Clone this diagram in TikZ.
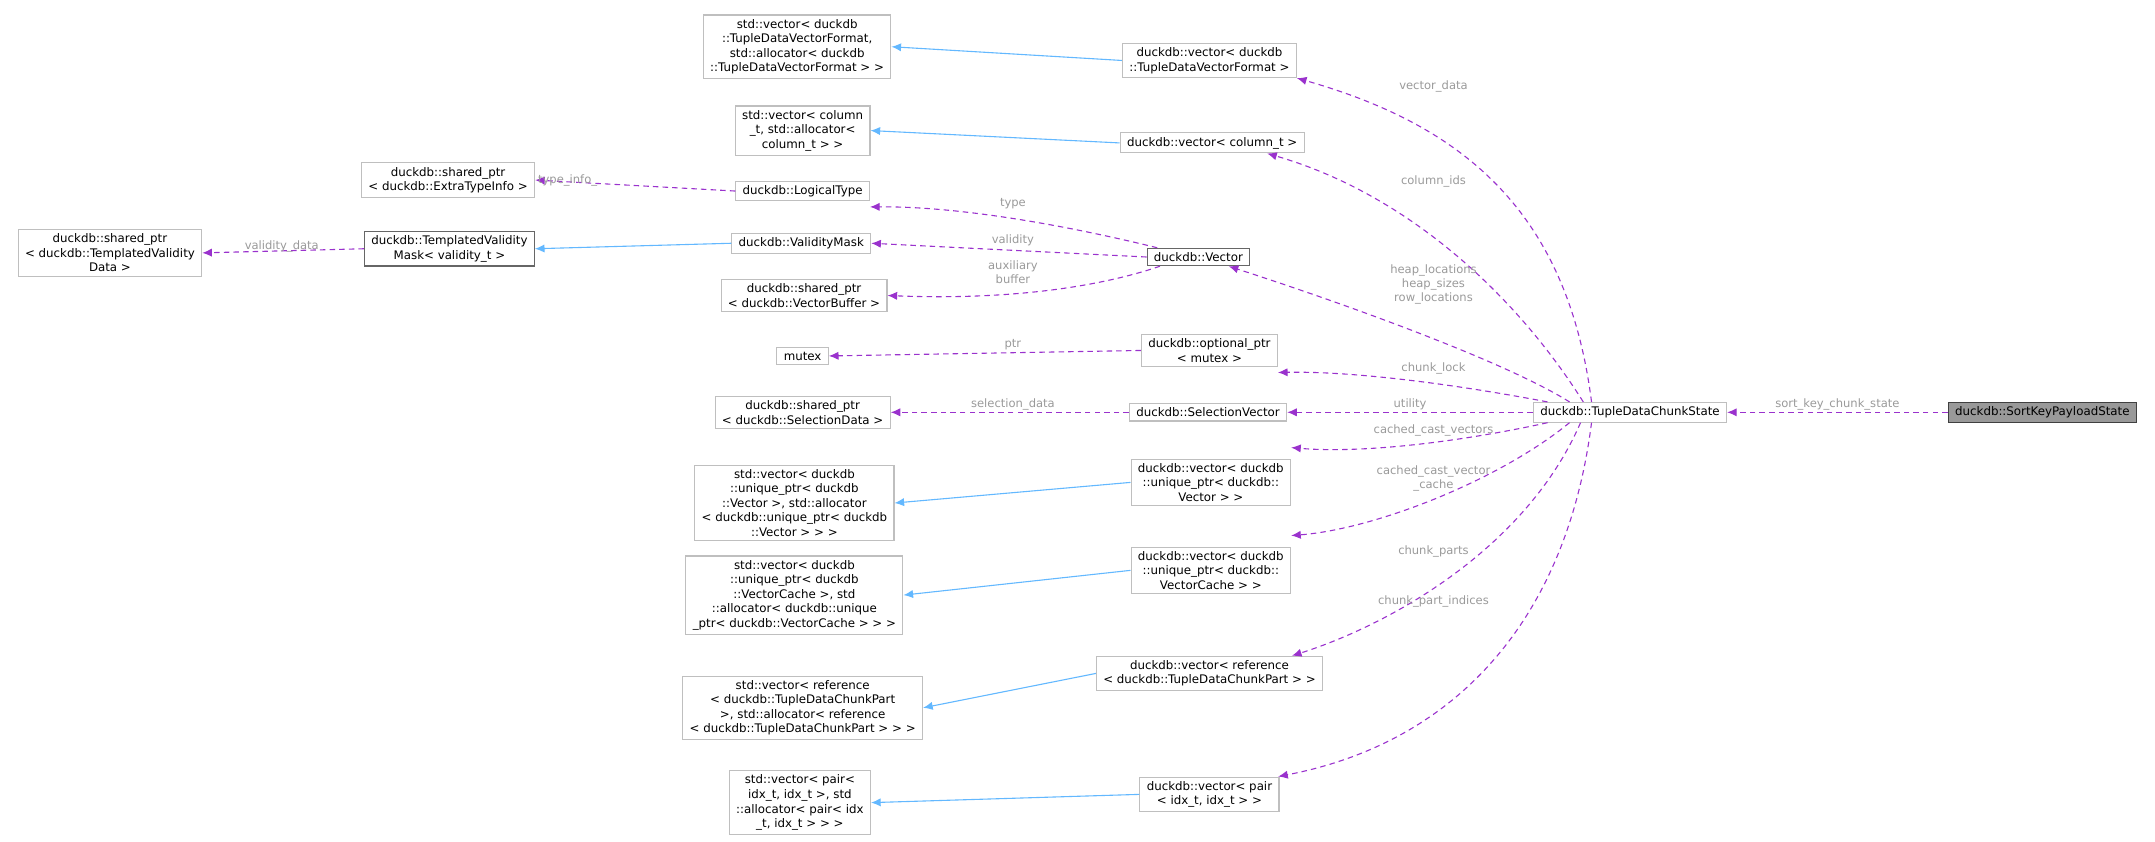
\documentclass[tikz,border=0pt]{standalone}
\usepackage{fontspec}
\setmainfont{DejaVu Sans}
\usetikzlibrary{arrows.meta}
\definecolor{edgeP}{HTML}{9A32CD}
\definecolor{edgeB}{HTML}{63B8FF}
\definecolor{lbl}{HTML}{9A9A9A}
\definecolor{bord}{HTML}{BFBFBF}
\begin{document}
\begin{tikzpicture}[x=1pt,y=-1pt,
  box/.style={draw=bord,line width=0.8pt,fill=white,align=center,font=\fontsize{8.6}{10.6}\selectfont,inner xsep=5pt,inner ysep=3pt},
  dark/.style={box,draw=black!60},
  dep/.style={draw=edgeP,dashed,dash pattern=on 4pt off 3pt,line width=0.8pt,-{Latex[length=7pt,width=6pt]}},
  inh/.style={draw=edgeB,line width=0.8pt,-{Latex[length=7pt,width=6pt]}},
  lab/.style={text=lbl,font=\fontsize{8.4}{10}\selectfont,align=center,inner sep=1pt}]
\useasboundingbox (0,0) rectangle (1568,612);
% nodes
\node[box,draw=black!75,fill=black!40] (sk) at (1486,300) {duckdb::SortKeyPayloadState};
\node[box] (tdcs) at (1186,300) {duckdb::TupleDataChunkState};
\node[box] (vTDVF) at (880,44) {duckdb::vector< duckdb\\::TupleDataVectorFormat >};
\node[box] (sTDVF) at (580,34) {std::vector< duckdb\\::TupleDataVectorFormat,\\ std::allocator< duckdb\\::TupleDataVectorFormat > >};
\node[box] (vCol) at (882,104) {duckdb::vector< column\_t >};
\node[box] (sCol) at (584,95) {std::vector< column\\\_t, std::allocator<\\ column\_t > >};
\node[box] (sExt) at (326,131) {duckdb::shared\_ptr\\< duckdb::ExtraTypeInfo >};
\node[box] (LT) at (584,139) {duckdb::LogicalType};
\node[dark] (TVM) at (327,181) {duckdb::TemplatedValidity\\Mask< validity\_t >};
\node[box] (sTVD) at (80,184) {duckdb::shared\_ptr\\< duckdb::TemplatedValidity\\Data >};
\node[box] (VM) at (583,177) {duckdb::ValidityMask};
\node[dark] (Vec) at (872,187) {duckdb::Vector};
\node[box] (sVB) at (585,215) {duckdb::shared\_ptr\\< duckdb::VectorBuffer >};
\node[box] (mtx) at (584,259) {mutex};
\node[box] (opt) at (880,255) {duckdb::optional\_ptr\\< mutex >};
\node[box] (sSel) at (584,300) {duckdb::shared\_ptr\\< duckdb::SelectionData >};
\node[box] (SV) at (879,300) {duckdb::SelectionVector};
\node[box] (vUPV) at (881,351) {duckdb::vector< duckdb\\::unique\_ptr< duckdb::\\Vector > >};
\node[box] (sUPV) at (578,366) {std::vector< duckdb\\::unique\_ptr< duckdb\\::Vector >, std::allocator\\< duckdb::unique\_ptr< duckdb\\::Vector > > >};
\node[box] (vUPVC) at (881,415) {duckdb::vector< duckdb\\::unique\_ptr< duckdb::\\VectorCache > >};
\node[box] (sUPVC) at (578,433) {std::vector< duckdb\\::unique\_ptr< duckdb\\::VectorCache >, std\\::allocator< duckdb::unique\\\_ptr< duckdb::VectorCache > > >};
\node[box] (vRef) at (880,490) {duckdb::vector< reference\\< duckdb::TupleDataChunkPart > >};
\node[box] (sRef) at (584,515) {std::vector< reference\\< duckdb::TupleDataChunkPart\\ >, std::allocator< reference\\< duckdb::TupleDataChunkPart > > >};
\node[box] (vPair) at (880,578) {duckdb::vector< pair\\< idx\_t, idx\_t > >};
\node[box] (sPair) at (582,584) {std::vector< pair<\\ idx\_t, idx\_t >, std\\::allocator< pair< idx\\\_t, idx\_t > > >};
% inheritance
\draw[inh] (vTDVF.west) -- (sTDVF.east);
\draw[inh] (vCol.west) -- (sCol.east);
\draw[inh] (VM.west) -- (TVM.east);
\draw[inh] (vUPV.west) -- (sUPV.east);
\draw[inh] (vUPVC.west) -- (sUPVC.east);
\draw[inh] (vRef.west) -- (sRef.east);
\draw[inh] (vPair.west) -- (sPair.east);
% dependencies
\draw[dep] (sk.west) -- node[lab,above]{sort\_key\_chunk\_state} (tdcs.east);
\draw[dep] ([xshift=-28pt]tdcs.north) .. controls (1140,150) and (1060,90) .. (vTDVF.south east);
\node[lab] at (1043,63) {vector\_data};
\draw[dep] ([xshift=-34pt]tdcs.north) .. controls (1100,210) and (1020,140) .. ([xshift=40pt]vCol.south);
\node[lab] at (1043,132) {column\_ids};
\draw[dep] ([xshift=-44pt]tdcs.north) .. controls (1090,260) and (960,215) .. ([xshift=22pt]Vec.south);
\node[lab] at (1043,207) {heap\_locations\\heap\_sizes\\row\_locations};
\draw[dep] ([xshift=-60pt]tdcs.north) .. controls (1050,278) and (980,270) .. ([yshift=-4pt]opt.south east);
\node[lab] at (1043,268) {chunk\_lock};
\draw[dep] (tdcs.west) -- node[lab,above]{utility} (SV.east);
\draw[dep] ([xshift=-60pt]tdcs.south) .. controls (1060,322) and (990,330) .. ([yshift=8pt]vUPV.north east);
\node[lab] at (1043,313) {cached\_cast\_vectors};
\draw[dep] ([xshift=-44pt]tdcs.south) .. controls (1090,350) and (1000,385) .. ([yshift=8pt]vUPVC.north east);
\node[lab] at (1043,348) {cached\_cast\_vector\\\_cache};
\draw[dep] ([xshift=-36pt]tdcs.south) .. controls (1110,400) and (1010,455) .. ([xshift=60pt]vRef.north);
\node[lab] at (1043,401) {chunk\_parts};
\draw[dep] ([xshift=-28pt]tdcs.south) .. controls (1140,450) and (1060,540) .. ([xshift=50pt]vPair.north);
\node[lab] at (1043,438) {chunk\_part\_indices};
\draw[dep] ([xshift=-30pt]Vec.north) .. controls (780,165) and (700,150) .. ([yshift=-4pt]LT.south east);
\node[lab] at (737,148) {type};
\draw[dep] (Vec.west) -- (VM.east);
\node[lab] at (737,175) {validity};
\draw[dep] ([xshift=-28pt]Vec.south) .. controls (790,212) and (720,218) .. (sVB.east);
\node[lab] at (737,198) {auxiliary\\buffer};
\draw[dep] (LT.west) -- (sExt.east);
\node[lab] at (413,131) {type\_info\_};
\draw[dep] (TVM.west) -- (sTVD.east);
\node[lab] at (205,179) {validity\_data};
\draw[dep] (opt.west) -- (mtx.east);
\node[lab] at (737,251) {ptr};
\draw[dep] (SV.west) -- (sSel.east);
\node[lab] at (737,294) {selection\_data};
\end{tikzpicture}
\end{document}
